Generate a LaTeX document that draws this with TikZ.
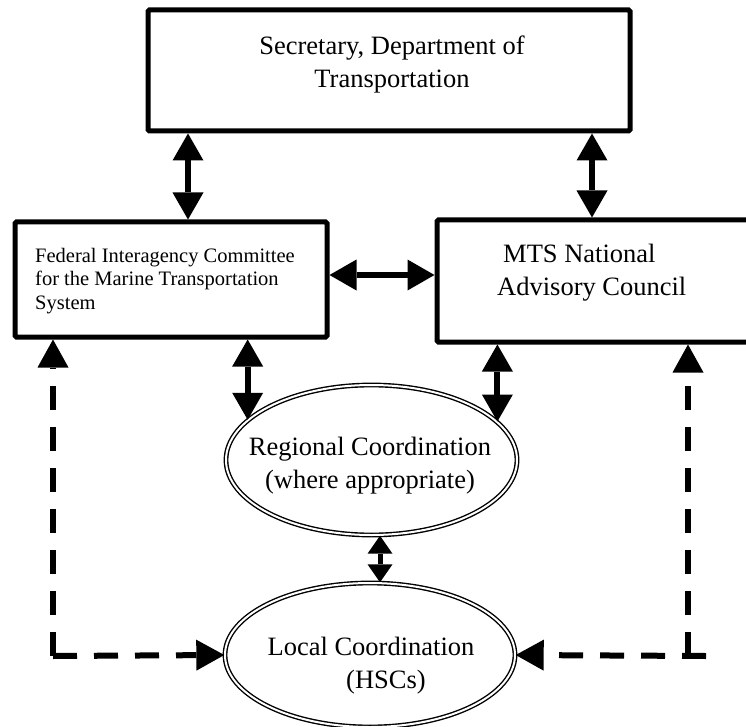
\documentclass[tikz,border=0pt]{standalone}
\usepackage{fontspec}
\setmainfont{Liberation Serif}
\usetikzlibrary{arrows.meta,shapes.geometric}
\tikzset{
  boxnode/.style={draw, line width=5pt, rectangle, inner sep=0pt, rounded corners=1.5pt},
  ellnode/.style={draw, ellipse, inner sep=0pt, line width=1.4pt, double, double distance=2pt},
  bigtxt/.style={inner sep=0pt, align=center, font=\fontsize{26.5}{33}\selectfont},
  smalltxt/.style={inner sep=0pt, align=left, font=\fontsize{20.5}{23.5}\selectfont},
  arr/.style={line width=6pt, {Triangle[width=31pt,length=27pt,line width=0pt]}-{Triangle[width=31pt,length=27pt,line width=0pt]}},
  sarr/.style={line width=5pt, {Triangle[width=25pt,length=18pt,line width=0pt]}-{Triangle[width=25pt,length=18pt,line width=0pt]}},
  darr/.style={line width=6pt, dash pattern=on 24pt off 17pt, -{Triangle[width=31pt,length=28pt,line width=0pt]}}
}
\begin{document}
\begin{tikzpicture}[x=1pt,y=-1pt]
\fill[white] (0,0) rectangle (746,727);
\useasboundingbox (0,0) rectangle (746,727);
% boxes
\node[boxnode, minimum width=482pt, minimum height=121pt] (sec) at (389,70.5) {};
\node[bigtxt] (sectxt) at (392,64) {Secretary, Department of\\Transportation};
\node[boxnode, minimum width=312pt, minimum height=115pt] (fic) at (171,279.5) {};
\node[smalltxt, anchor=west] (fictxt) at (35,281) {Federal Interagency Committee\\for the Marine Transportation\\System};
\node[boxnode, minimum width=333pt, minimum height=122pt] (mts) at (603.5,281) {};
\node[bigtxt, align=left, anchor=west] (mtstxt) at (497,273) {\hspace*{6pt}MTS National\\Advisory Council};
% ellipses
\node[ellnode, minimum width=291pt, minimum height=150pt] (reg) at (371.5,460) {};
\node[bigtxt] (regtxt) at (370,466) {Regional Coordination\\(where appropriate)};
\node[ellnode, minimum width=290pt, minimum height=144pt] (loc) at (370,655) {};
\node[bigtxt] (loctxt) at (371,666) {Local Coordination\\\hspace*{30pt}(HSCs)};
% helper coordinates
\coordinate (c188) at (188,0);
\coordinate (c592) at (592,0);
\coordinate (c275) at (0,275);
\coordinate (c380) at (380,0);
\coordinate (lc) at (53,656);
\coordinate (rc) at (688,656);
\coordinate (rs) at (706,656);
% solid arrows
\draw[arr] (sec.south -| c188) -- (fic.north -| c188);
\draw[arr] (sec.south -| c592) -- (mts.north -| c592);
\draw[arr] (fic.east |- c275) -- (mts.west |- c275);
\draw[arr] (fic.south -| reg.162.5) -- (reg.162.5);
\draw[arr] (mts.south -| reg.17.5) -- (reg.17.5);
\draw[sarr] (reg.south -| c380) -- (loc.north -| c380);
% dashed arrows
\draw[darr] (lc) -- (fic.south -| lc);
\draw[darr] (lc) -- (loc.west);
\draw[darr] (rc) -- (mts.south -| rc);
\draw[darr] (rs) -- (loc.east);
\end{tikzpicture}
\end{document}
